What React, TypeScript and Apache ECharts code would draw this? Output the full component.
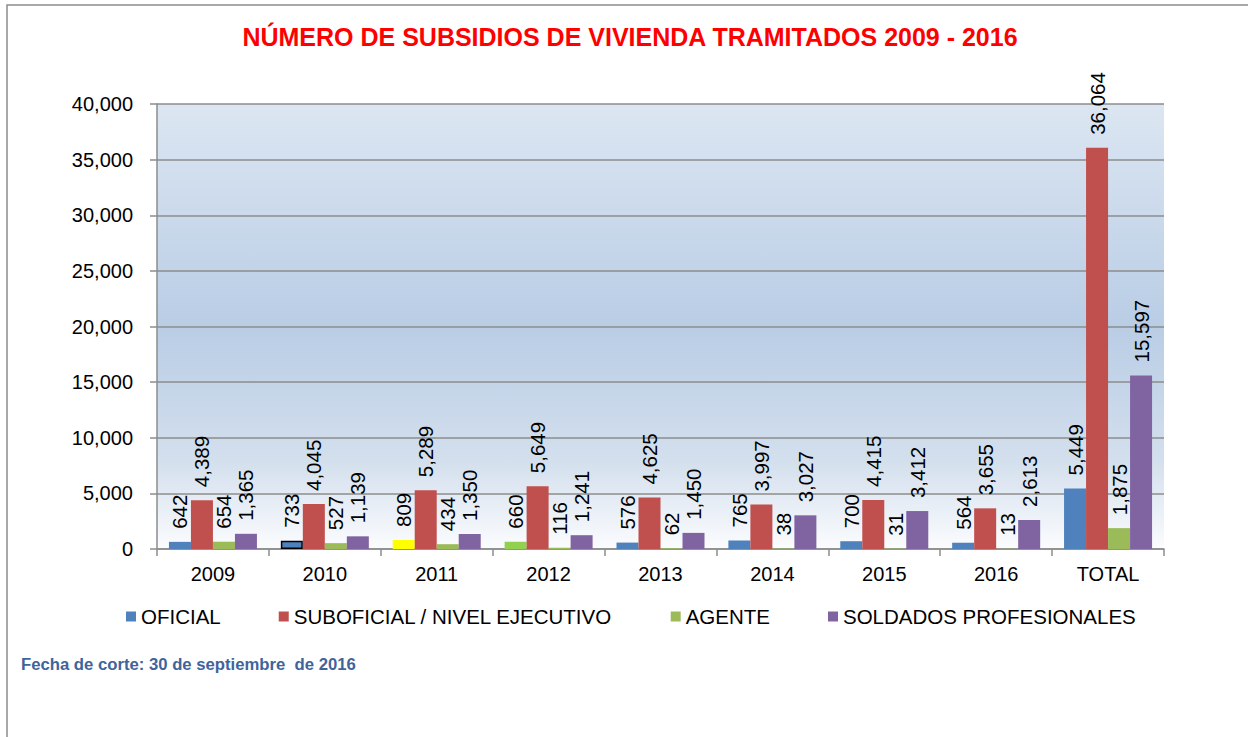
import React, { useEffect, useRef } from "react";
import * as echarts from "echarts";

const categories = ["2009", "2010", "2011", "2012", "2013", "2014", "2015", "2016", "TOTAL"];
const seriesNames = ["OFICIAL", "SUBOFICIAL / NIVEL EJECUTIVO", "AGENTE", "SOLDADOS PROFESIONALES"];
const oficial = [642, 733, 809, 660, 576, 765, 700, 564, 5449];
const suboficial = [4389, 4045, 5289, 5649, 4625, 3997, 4415, 3655, 36064];
const agente = [654, 527, 434, 116, 62, 38, 31, 13, 1875];
const soldados = [1365, 1139, 1350, 1241, 1450, 3027, 3412, 2613, 15597];
const yTicks = [0, 5000, 10000, 15000, 20000, 25000, 30000, 35000, 40000];
const colors = ["#4f81bd", "#c0504d", "#9bbb59", "#8064a2"];

const FONT = "'Liberation Sans', Arial, sans-serif";
const fmt = (v: number) => v.toLocaleString("en-US");

export default function App() {
  const ref = useRef<HTMLDivElement>(null);
  useEffect(() => {
    if (!ref.current) return;
    const chart = echarts.init(ref.current, null, { renderer: "svg" });
    const label = {
      show: true,
      position: "top",
      rotate: 90,
      distance: 13,
      align: "left",
      verticalAlign: "middle",
      fontSize: 20.5,
      color: "#000",
      fontFamily: FONT,
      formatter: (p: any) => fmt(p.value),
    };
    const oficialData = oficial.map((v, i) => {
      if (i === 1) return { value: v, itemStyle: { borderColor: "#000", borderWidth: 1.5 } };
      if (i === 2) return { value: v, itemStyle: { color: "#ffff00" } };
      if (i === 3) return { value: v, itemStyle: { color: "#92d050" } };
      return v;
    });
    const allData = [oficialData, suboficial, agente, soldados];
    chart.setOption({
      animation: false,
      textStyle: { fontFamily: FONT },
      graphic: [
        {
          type: "rect",
          shape: { x: 7, y: 5, width: 1300, height: 800 },
          style: { fill: "none", stroke: "#8c8c8c", lineWidth: 1.5 },
          silent: true,
        },
        {
          type: "text",
          x: 630,
          y: 37,
          style: {
            text: "NÚMERO DE SUBSIDIOS DE VIVIENDA TRAMITADOS 2009 - 2016",
            fill: "#ff0000",
            font: `bold 25px ${FONT}`,
            textAlign: "center",
            textVerticalAlign: "middle",
          },
        },
        {
          type: "text",
          x: 21,
          y: 664,
          style: {
            text: "Fecha de corte: 30 de septiembre  de 2016",
            fill: "#3f649b",
            font: `bold 16.7px ${FONT}`,
            textAlign: "left",
            textVerticalAlign: "middle",
          },
        },
      ],
      legend: {
        data: seriesNames,
        left: 126,
        top: 606,
        padding: 0,
        icon: "rect",
        itemWidth: 10,
        itemHeight: 10,
        itemGap: 58,
        textStyle: { fontSize: 20.5, color: "#000", fontFamily: FONT },
      },
      grid: {
        left: 157,
        right: 84,
        top: 104,
        bottom: 188,
        show: true,
        borderWidth: 0,
        backgroundColor: new echarts.graphic.LinearGradient(0, 0, 0, 1, [
          { offset: 0, color: "#dce6f2" },
          { offset: 0.5, color: "#b9cde5" },
          { offset: 0.8, color: "#d3dfed" },
          { offset: 1, color: "#fbfcfe" },
        ]),
      },
      xAxis: {
        type: "category",
        data: categories,
        axisLine: { show: true, lineStyle: { color: "#8c8c8c", width: 1.5 } },
        axisTick: { show: true, length: 7, lineStyle: { color: "#8c8c8c", width: 1.5 } },
        axisLabel: { fontSize: 20, color: "#000", margin: 15, fontFamily: FONT },
      },
      yAxis: {
        type: "value",
        min: 0,
        max: yTicks[yTicks.length - 1],
        interval: yTicks[1] - yTicks[0],
        axisLine: { show: true, lineStyle: { color: "#8c8c8c", width: 1.5 } },
        axisTick: { show: true, length: 7, lineStyle: { color: "#8c8c8c", width: 1.5 } },
        splitLine: { show: true, lineStyle: { color: "#8c8c8c", width: 1.5 } },
        axisLabel: {
          fontSize: 20,
          color: "#000",
          margin: 24,
          fontFamily: FONT,
          formatter: (v: number) => fmt(v),
        },
      },
      series: seriesNames.map((name, i) => ({
        name,
        type: "bar",
        data: allData[i],
        barWidth: 22,
        barGap: "0%",
        itemStyle: { color: colors[i] },
        label,
      })),
    });
    return () => chart.dispose();
  }, []);
  return (
    <div
      ref={ref}
      style={{ position: "absolute", left: 0, top: 0, width: 1248, height: 737, background: "#fff" }}
    />
  );
}
